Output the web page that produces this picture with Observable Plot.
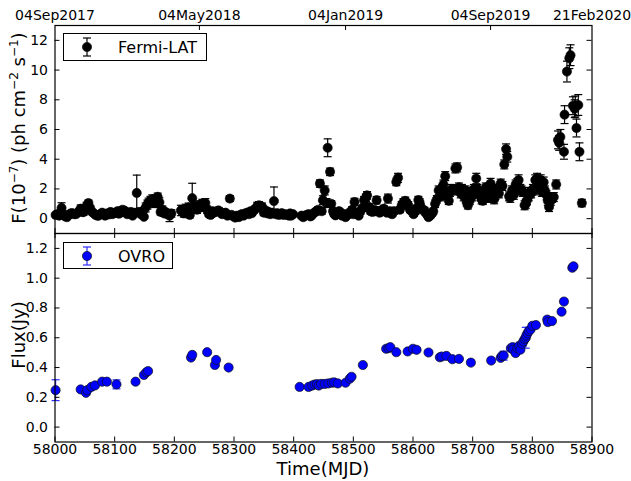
<!DOCTYPE html>
<html><head><meta charset="utf-8">
<script src="https://cdn.jsdelivr.net/npm/d3@7"></script>
<script src="https://cdn.jsdelivr.net/npm/@observablehq/plot@0.6"></script>
<style>
body{margin:0;background:#fff;font-family:"DejaVu Sans",sans-serif;}
#wrap{position:relative;width:631px;height:481px;overflow:hidden;background:#fff}
#wrap svg{overflow:visible}
.abs{position:absolute}
.ylab{position:absolute;transform:translate(-50%,-50%) rotate(-90deg);white-space:nowrap;font-size:18px;color:#000}
.sup{font-size:12px;position:relative;top:-7px}
.leg{position:absolute;border:1px solid #000;background:#fff;box-sizing:border-box}
.legtxt{position:absolute;font-size:16px;color:#000;white-space:nowrap}
</style></head>
<body><div id="wrap"></div>
<script>
// ---- Fermi-LAT data (MJD, flux 1e-7 ph cm^-2 s^-1, error) ----
const fermiMJD = [58001,58004,58007,58011,58014,58017,58020,58023,58026,58029,58032,58035,58038,58041,58043,58046,58048,58051,58053,58056,58059,58062,58065,58068,58071,58073,58076,58079,58081,58084,58087,58090,58093,58096,58099,58102,58105,58107,58110,58113,58116,58119,58121,58124,58127,58130,58133,58137,58140,58144,58147,58149,58152,58155,58157,58160,58163,58166,58168,58170,58172,58175,58177,58180,58183,58185,58188,58192,58195,
58211,58213,58216,58219,58221,58224,58226,58230,58233,58235,58238,58241,58244,58247,58250,58252,58255,58258,58261,58264,58266,58269,58272,58274,58277,58280,58283,58286,58289,58293,58296,58299,58302,58305,58308,58311,58313,58316,58319,58322,58325,58328,58330,58333,58336,58339,58342,58345,58347,58350,58353,58356,58358,58361,58364,58367,58370,58372,58375,58378,58380,58383,58386,58389,58392,58394,58396,58399,
58413,58416,58419,58422,58425,58428,58430,58433,58436,58439,58441,58444,58447,58449,58452,58455,58457,58461,58463,58466,58468,58470,58473,58476,58478,58481,58484,58487,58490,58493,58495,58498,58500,58502,58505,58507,58509,58512,58515,58518,58521,58523,58526,58529,58532,58535,58537,58539,58542,58544,58546,58549,58551,58554,58556,58558,58561,58563,58565,58568,58572,58575,58578,58581,58584,58587,58590,58592,58595,58598,58601,58604,58606,58609,58611,58613,58616,58619,58621,58624,58626,58629,58632,58634,58637,58640,58643,58646,58649,58651,58654,58657,58660,58662,58665,58668,58671,58674,58677,58680,58682,58685,58688,58690,58692,58695,58697,58699,58702,58704,58706,58708,58710,58713,58715,58717,58720,58722,58724,58727,58730,58733,58736,58738,58741,58744,58747,58750,58753,58756,58758,58761,58763,58766,58769,58772,58775,58777,58780,58782,58784,58787,58789,58791,58794,58796,58798,58801,58803,58805,58808,58810,58812,58814,58816,58819,58821,58824,58826,58828,58831,58833,58836,58840,58843,58845,58847,58853,58854,58858,58862,58864,58868,58871,58872,58874,58877,58879,58883];
const fermiFlux = [0.25,0.3,0.2,0.72,0.3,0.15,0.1,0.25,0.35,0.37,0.3,0.3,0.4,0.5,0.67,0.44,0.44,0.6,0.85,1.05,0.7,0.45,0.37,0.25,0.2,0.2,0.3,0.4,0.3,0.2,0.35,0.28,0.45,0.3,0.37,0.4,0.5,0.33,0.4,0.6,0.55,0.45,0.3,0.35,0.45,0.2,0.4,1.73,0.45,0.3,0.5,0.12,0.75,0.95,1.08,1.2,1.3,1.25,1.05,1.2,1.47,1.1,0.45,0.6,0.35,0.45,0.3,0.2,0.35,
0.55,0.55,0.35,0.67,0.45,0.75,0.25,1.38,0.8,0.7,0.6,0.9,0.75,1.0,0.85,1.05,0.6,0.3,0.25,0.5,0.4,0.45,0.5,0.55,0.45,0.3,0.35,0.4,0.2,1.35,0.25,0.15,0.07,0.2,0.1,0.25,0.3,0.2,0.35,0.4,0.3,0.5,0.37,0.55,0.67,0.85,0.9,0.75,0.8,0.4,0.55,0.35,0.45,0.3,0.4,1.18,0.3,0.37,0.25,0.3,0.37,0.25,0.3,0.25,0.2,0.35,0.2,0.3,
0.2,0.1,0.2,0.25,0.3,0.15,0.2,0.35,0.45,0.5,0.6,2.36,0.5,1.24,1.9,1.05,4.77,3.15,1.0,0.5,0.3,0.22,0.3,0.5,0.45,0.2,0.3,0.1,0.25,0.4,0.35,0.6,0.3,1.12,0.4,0.3,0.2,0.5,0.7,1.24,1.4,1.57,0.8,0.5,0.45,0.6,0.5,1.24,0.5,0.4,0.45,0.6,0.67,0.5,0.4,1.35,0.5,0.35,0.3,0.5,2.47,2.75,0.6,0.9,1.1,1.2,1.0,0.9,0.6,0.5,0.3,0.5,0.7,1.25,1.1,0.8,0.6,0.56,0.4,0.25,0.1,0.2,0.35,0.5,1.0,1.3,1.9,1.5,2.0,2.3,2.86,1.6,1.2,1.8,2.0,1.9,3.38,3.45,2.1,1.7,2.0,1.5,1.9,1.1,0.9,1.2,1.8,1.5,2.0,1.8,2.7,2.0,1.7,1.5,1.3,1.2,1.6,2.1,1.75,1.4,2.36,1.8,1.3,1.6,2.0,1.7,2.36,2.2,3.65,4.68,4.16,1.5,1.4,1.9,1.6,2.3,2.4,2.6,2.0,1.9,1.8,0.9,1.0,1.24,1.5,1.8,1.7,2.0,1.9,2.6,2.7,2.5,2.0,2.6,1.8,2.45,1.9,1.57,1.2,0.78,1.2,1.4,1.45,2.3,5.3,5.1,5.5,4.5,7.0,9.9,10.8,11.0,7.6,7.4,7.55,6.1,7.65,4.5,1.05];
const fermiErr = [0.12,0.12,0.1,0.35,0.12,0.1,0.1,0.12,0.15,0.15,0.12,0.12,0.15,0.2,0.25,0.2,0.2,0.2,0.25,0.2,0.2,0.15,0.15,0.12,0.1,0.1,0.12,0.15,0.12,0.1,0.15,0.12,0.15,0.12,0.15,0.15,0.2,0.15,0.15,0.2,0.2,0.15,0.12,0.15,0.15,0.1,0.15,1.2,0.2,0.15,0.2,0.1,0.3,0.3,0.3,0.3,0.3,0.3,0.3,0.3,0.25,0.3,0.2,0.25,0.2,0.2,0.2,0.4,0.25,
0.35,0.3,0.25,0.3,0.25,0.3,0.2,1.0,0.3,0.25,0.25,0.3,0.25,0.3,0.3,0.3,0.25,0.15,0.15,0.2,0.15,0.15,0.15,0.2,0.15,0.15,0.15,0.15,0.12,0.2,0.12,0.1,0.1,0.1,0.1,0.12,0.12,0.12,0.15,0.15,0.15,0.2,0.15,0.2,0.2,0.25,0.25,0.25,0.25,0.2,0.2,0.15,0.15,0.15,0.15,0.95,0.12,0.15,0.12,0.12,0.15,0.12,0.12,0.12,0.12,0.12,0.12,0.12,
0.1,0.1,0.1,0.12,0.12,0.1,0.12,0.15,0.15,0.2,0.2,0.25,0.2,0.3,0.3,0.3,0.6,0.25,0.2,0.2,0.15,0.12,0.15,0.15,0.15,0.12,0.12,0.1,0.12,0.15,0.15,0.2,0.15,0.25,0.15,0.15,0.12,0.2,0.2,0.25,0.25,0.25,0.2,0.2,0.2,0.2,0.2,0.25,0.2,0.15,0.2,0.2,0.2,0.2,0.15,0.3,0.2,0.15,0.15,0.2,0.25,0.3,0.2,0.25,0.25,0.25,0.25,0.25,0.2,0.2,0.15,0.2,0.2,0.25,0.25,0.2,0.2,0.2,0.15,0.12,0.12,0.12,0.15,0.2,0.25,0.25,0.3,0.3,0.3,0.3,0.3,0.3,0.25,0.3,0.3,0.3,0.3,0.3,0.3,0.3,0.3,0.3,0.3,0.25,0.25,0.25,0.3,0.3,0.3,0.3,0.35,0.3,0.3,0.3,0.3,0.25,0.3,0.3,0.3,0.3,0.35,0.3,0.3,0.3,0.3,0.3,0.3,0.3,0.3,0.35,0.35,0.3,0.3,0.3,0.3,0.3,0.3,0.35,0.3,0.3,0.3,0.3,0.3,0.3,0.3,0.3,0.3,0.3,0.3,0.35,0.35,0.35,0.3,0.35,0.3,0.35,0.3,0.3,0.3,0.3,0.3,0.3,0.3,0.3,0.6,0.5,0.5,0.5,0.6,0.7,0.7,0.7,0.6,0.6,0.7,0.6,0.7,0.6,0.25];

// ---- OVRO data (MJD, flux Jy, error) ----
const ovroMJD = [58001,58043,58052,58054,58061,58067,58079,58087,58103,58135,58149,58153,58156,58228,58230,58255,58268,58270,58291,58410,58425,58431,58435,58439,58442,58446,58452,58458,58464,58468,58474,58487,58494,58497,58516,58555,58559,58562,58572,58591,58600,58606,58626,58645,58648,58656,58666,58677,58697,58731,58747,58749,58752,58764,58767,58768,58772,58775,58778,58780,58783,58785,58787,58789,58790,58792,58794,58797,58800,58806,58825,58826,58833,58849,58853,58867,58869];
const ovroFlux = [0.248,0.253,0.23,0.248,0.27,0.28,0.305,0.305,0.287,0.305,0.35,0.368,0.376,0.467,0.485,0.503,0.417,0.451,0.40,0.27,0.27,0.279,0.286,0.288,0.279,0.29,0.29,0.293,0.298,0.30,0.293,0.298,0.325,0.338,0.417,0.526,0.53,0.537,0.503,0.508,0.526,0.519,0.501,0.469,0.474,0.478,0.456,0.458,0.433,0.447,0.465,0.478,0.48,0.53,0.537,0.52,0.497,0.53,0.546,0.52,0.56,0.575,0.59,0.60,0.615,0.63,0.645,0.655,0.68,0.685,0.722,0.705,0.712,0.775,0.843,1.07,1.08];
const ovroErr = [0.07,0.01,0.01,0.01,0.01,0.01,0.01,0.01,0.03,0.01,0.01,0.01,0.01,0.01,0.01,0.01,0.01,0.01,0.01,0.01,0.01,0.01,0.01,0.01,0.01,0.01,0.01,0.01,0.01,0.01,0.01,0.01,0.01,0.01,0.01,0.01,0.01,0.01,0.01,0.01,0.01,0.01,0.01,0.01,0.01,0.01,0.01,0.01,0.01,0.01,0.01,0.01,0.03,0.01,0.01,0.01,0.01,0.01,0.01,0.01,0.01,0.01,0.01,0.07,0.01,0.01,0.01,0.01,0.01,0.01,0.01,0.01,0.01,0.01,0.01,0.01,0.01];

// ---- axis ticks / labels ----
const mjdTicks = [58000,58100,58200,58300,58400,58500,58600,58700,58800,58900];
const dateTickMJD = [58000,58242,58487,58730,58900];
const dateTickLabels = ["04Sep2017","04May2018","04Jan2019","04Sep2019","21Feb2020"];
const fermiYTicks = [0,2,4,6,8,10,12];
const ovroYTicks = [0,0.2,0.4,0.6,0.8,1.0,1.2];

const fermi = fermiMJD.map((m,i)=>({mjd:m, f:fermiFlux[i], e:fermiErr[i]}));
const ovro = ovroMJD.map((m,i)=>({mjd:m, f:ovroFlux[i], e:ovroErr[i]}));
const dateLabel = new Map(dateTickMJD.map((d,i)=>[d,dateTickLabels[i]]));

const W = 631, ML = 54.5, MR = 39.5, PW = W - ML - MR;
const cap = {draw(ctx){ ctx.moveTo(-4,0); ctx.lineTo(4,0); }};
const TL = 5;
const baseStyle = {fontFamily:"DejaVu Sans", fontSize:"13px", color:"black", background:"transparent", overflow:"visible"};

function errMarks(data, color){
  return [
    Plot.ruleX(data, {x:"mjd", y1:d=>d.f-d.e, y2:d=>d.f+d.e, stroke:color, strokeWidth:1.2}),
    Plot.dot(data, {x:"mjd", y:d=>d.f-d.e, symbol:cap, fill:"none", stroke:color, strokeWidth:1.2}),
    Plot.dot(data, {x:"mjd", y:d=>d.f+d.e, symbol:cap, fill:"none", stroke:color, strokeWidth:1.2})
  ];
}

// top panel
const H1 = 234, MT1 = 25, MB1 = 1, PH1 = H1 - MT1 - MB1;
const topPlot = Plot.plot({
  width: W, height: H1, marginLeft: ML, marginRight: MR, marginTop: MT1, marginBottom: MB1,
  style: baseStyle,
  x: {domain:[58000,58900]},
  y: {domain:[-1,13]},
  marks: [
    ...errMarks(fermi, "black"),
    Plot.dot(fermi, {x:"mjd", y:"f", r:4.6, fill:"black", stroke:"black", strokeWidth:0.6}),
    Plot.tickX(mjdTicks, {x:d=>d, insetTop: PH1 - TL, stroke:"black"}),
    Plot.tickX(dateTickMJD.slice(1,4), {x:d=>d, insetBottom: PH1 - TL, stroke:"black"}),
    Plot.tickY(fermiYTicks, {y:d=>d, insetRight: PW - TL, stroke:"black"}),
    Plot.tickY(fermiYTicks, {y:d=>d, insetLeft: PW - TL, stroke:"black"}),
    Plot.axisY(fermiYTicks, {tickSize:0, tickPadding:7, label:null, fontSize:14}),
    Plot.axisX(dateTickMJD, {anchor:"top", tickSize:0, tickPadding:6, label:null, fontSize:14, tickFormat:d=>dateLabel.get(d)}),
    Plot.frame({stroke:"black", strokeWidth:1.2})
  ]
});

// bottom panel
const H2 = 248, MT2 = 0, MB2 = 39.5, PH2 = H2 - MT2 - MB2;
const botPlot = Plot.plot({
  width: W, height: H2, marginLeft: ML, marginRight: MR, marginTop: MT2, marginBottom: MB2,
  style: baseStyle,
  x: {domain:[58000,58900]},
  y: {domain:[-0.1,1.3]},
  marks: [
    ...errMarks(ovro, "#2b2bff"),
    Plot.dot(ovro, {x:"mjd", y:"f", r:4.6, fill:"#0000ff", stroke:"#111", strokeWidth:0.7}),
    Plot.tickX(mjdTicks, {x:d=>d, insetTop: PH2 - TL, stroke:"black"}),
    Plot.tickX(mjdTicks, {x:d=>d, insetBottom: PH2 - TL, stroke:"black"}),
    Plot.tickY(ovroYTicks, {y:d=>d, insetRight: PW - TL, stroke:"black"}),
    Plot.tickY(ovroYTicks, {y:d=>d, insetLeft: PW - TL, stroke:"black"}),
    Plot.axisY(ovroYTicks, {tickSize:0, tickPadding:7, label:null, fontSize:14, tickFormat:d=>d.toFixed(1)}),
    Plot.axisX(mjdTicks, {tickSize:0, tickPadding:2, label:null, fontSize:14, tickFormat:d=>String(d)}),
    Plot.frame({stroke:"black", strokeWidth:1.2})
  ]
});

const wrap = document.getElementById("wrap");
topPlot.style.position = "absolute"; topPlot.style.left = "0px"; topPlot.style.top = "0px";
botPlot.style.position = "absolute"; botPlot.style.left = "0px"; botPlot.style.top = "233px";
wrap.appendChild(topPlot);
wrap.appendChild(botPlot);

// axis titles
function addDiv(cls, html, css){ const d=document.createElement("div"); d.className=cls; d.innerHTML=html; Object.assign(d.style, css); wrap.appendChild(d); return d; }
addDiv("ylab", 'F(10<span class="sup">−7</span>) (ph cm<span class="sup">−2</span> s<span class="sup">−1</span>)', {left:"18px", top:"128px"});
addDiv("ylab", 'Flux(Jy)', {left:"18px", top:"335px"});
addDiv("abs", 'Time(MJD)', {left:"323px", top:"468px", transform:"translate(-50%,-50%)", fontSize:"18px", whiteSpace:"nowrap"});

// legends
function legend(x, y, w, h, color, mcolor, text){
  addDiv("leg", "", {left:x+"px", top:y+"px", width:w+"px", height:h+"px"});
  const ns = "http://www.w3.org/2000/svg";
  const s = document.createElementNS(ns, "svg");
  s.setAttribute("width", 20); s.setAttribute("height", 24);
  s.style.position = "absolute"; s.style.left = (x+14)+"px"; s.style.top = (y+h/2-12)+"px";
  s.innerHTML = `<line x1="10" x2="10" y1="3" y2="21" stroke="${color}" stroke-width="1.2"/>
    <line x1="6" x2="14" y1="3" y2="3" stroke="${color}" stroke-width="1.2"/>
    <line x1="6" x2="14" y1="21" y2="21" stroke="${color}" stroke-width="1.2"/>
    <circle cx="10" cy="12" r="4.6" fill="${mcolor}" stroke="#111" stroke-width="0.7"/>`;
  wrap.appendChild(s);
  addDiv("legtxt", text, {left:(x+55)+"px", top:(y+h/2)+"px", transform:"translateY(-50%)"});
}
legend(63, 33, 144, 28, "black", "black", "Fermi-LAT");
legend(63, 242, 110, 27, "#2b2bff", "#0000ff", "OVRO");
</script>
</body></html>
